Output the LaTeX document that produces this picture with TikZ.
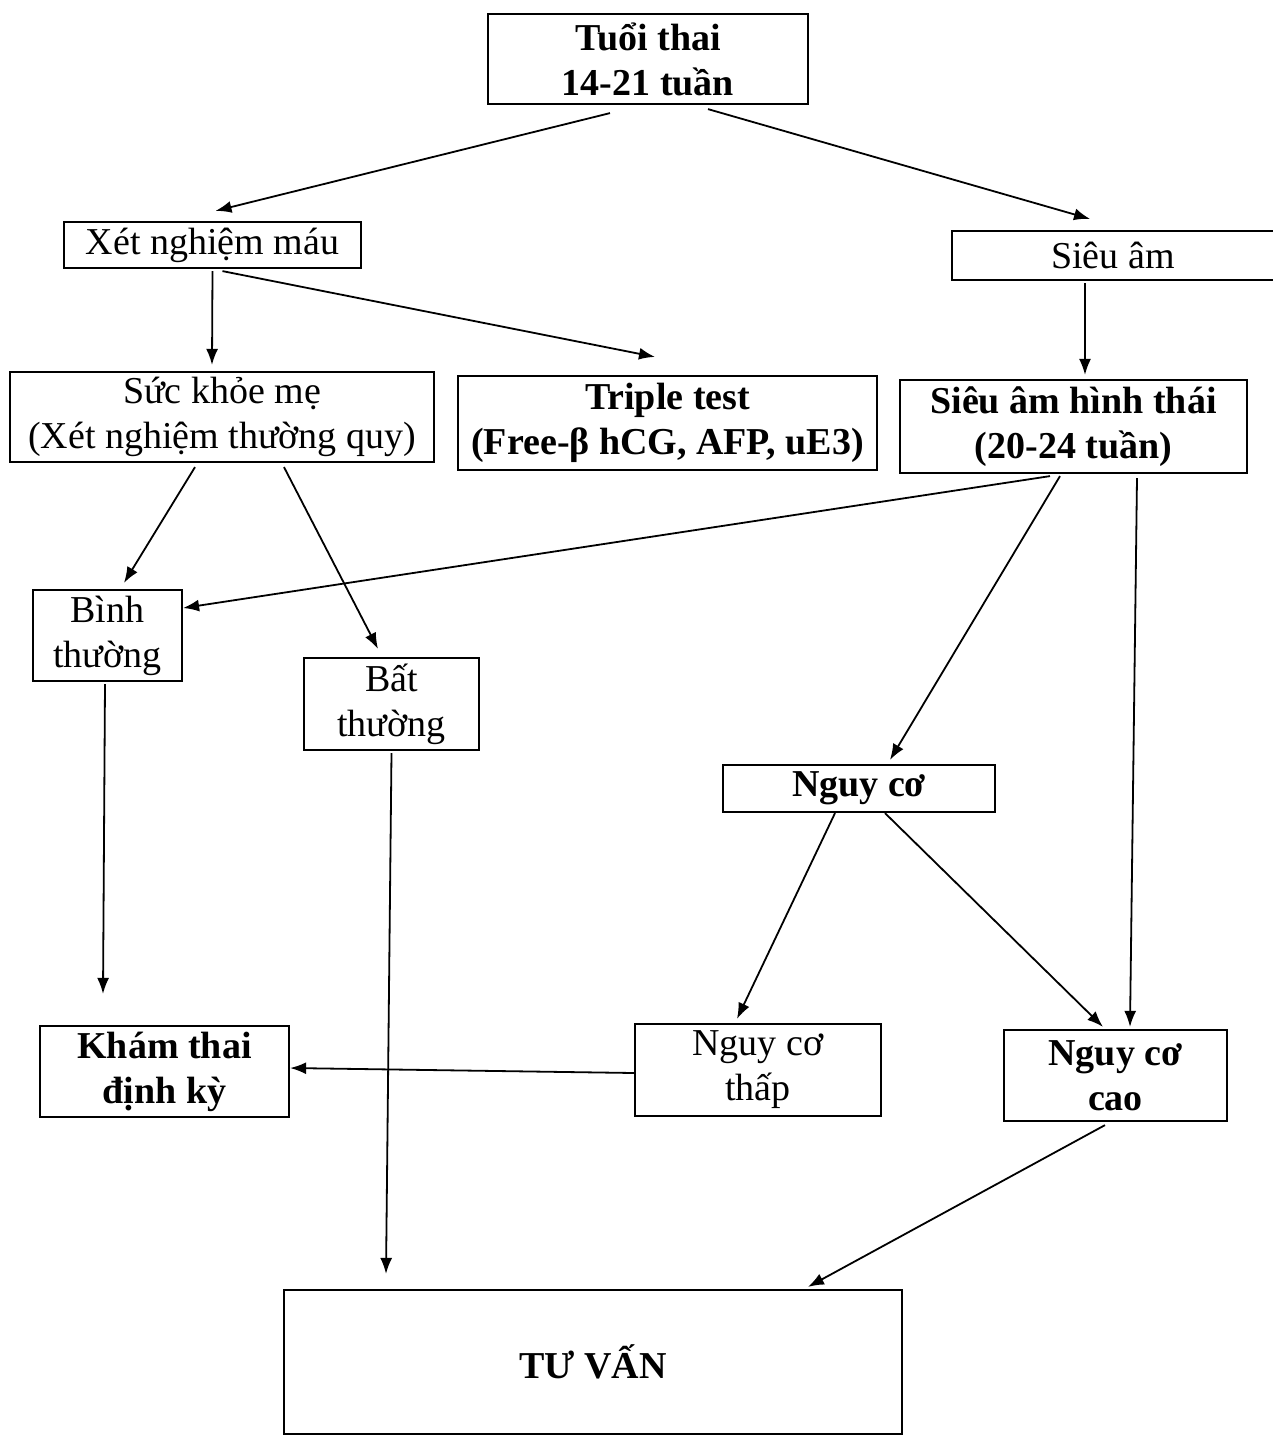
\documentclass[tikz,border=0pt]{standalone}
\usepackage{fontspec}
\setmainfont{Liberation Serif}
\usetikzlibrary{arrows.meta}
\begin{document}
\begin{tikzpicture}[x=0.5pt,y=-0.5pt,
  box/.style={draw, line width=1.1pt, inner sep=0pt, align=center,
    font=\fontsize{19}{22.5}\selectfont},
  bbox/.style={box, font=\fontsize{19}{22.5}\selectfont\bfseries},
  arr/.style={line width=0.9pt, -{Latex[length=8pt,width=6pt]}}]
\useasboundingbox (0,0) rectangle (1273,1437);
\fill[white] (0,0) rectangle (1273,1437);
% nodes
\node[bbox, minimum width=160pt, minimum height=45pt] (t1) at (648,59) {Tuổi thai\\14-21 tuần};
\node[box, minimum width=148.5pt, minimum height=23pt] (xn) at (212.5,245) {Xét nghiệm máu};
\node[box, draw=none, minimum width=160pt, minimum height=23.5pt] (sa) at (1113,255.5) {Siêu âm};
\draw[line width=1.1pt] (sa.north east) -- (sa.north west) -- (sa.south west) -- (sa.south east);
\node[box, minimum width=212pt, minimum height=45pt] (sk) at (222,417) {Sức khỏe mẹ\\(Xét nghiệm thường quy)};
\node[bbox, minimum width=209.5pt, minimum height=47pt] (tt) at (667.5,423) {Triple test\\(Free-β hCG, AFP, uE3)};
\node[bbox, minimum width=173.5pt, minimum height=46.5pt] (sh) at (1073.5,426.5) {Siêu âm hình thái\\(20-24 tuần)};
\node[box, minimum width=74.5pt, minimum height=45.5pt] (bt) at (107.5,635.5) {Bình\\thường};
\node[box, minimum width=87.5pt, minimum height=46pt] (bat) at (391.5,704) {Bất\\thường};
\node[bbox, minimum width=136pt, minimum height=23.5pt] (nc) at (859,788.5) {Nguy cơ};
\node[bbox, minimum width=124.5pt, minimum height=45.5pt] (kt) at (164.5,1071.5) {Khám thai\\định kỳ};
\node[box, minimum width=123pt, minimum height=46pt] (ncth) at (758,1070) {Nguy cơ\\thấp};
\node[bbox, minimum width=111.5pt, minimum height=45.5pt] (ncc) at (1115.5,1075.5) {Nguy cơ\\cao};
\node[bbox, minimum width=309pt, minimum height=72pt] (tv) at (593,1362) {TƯ VẤN};
% connectors
\draw[arr] ([xshift=-19pt,yshift=-4pt]t1.south) -- ([xshift=1.5pt,yshift=5pt]xn.north);
\draw[arr] ([xshift=30pt,yshift=-2pt]t1.south) -- ([xshift=-11.5pt,yshift=6pt]sa.north);
\draw[arr] ([yshift=-1pt]xn.south) -- ([xshift=-5pt,yshift=3pt]sk.north);
\draw[arr] ([xshift=5pt,yshift=-1pt]xn.south) -- ([xshift=-6.25pt,yshift=9pt]tt.north);
\draw[arr] ([xshift=-14pt,yshift=-1.5pt]sa.south) -- ([xshift=5.75pt,yshift=2pt]sh.north);
\draw[arr] ([xshift=-13.5pt,yshift=-2pt]sk.south) -- ([xshift=8.25pt,yshift=3pt]bt.north);
\draw[arr] ([xshift=31pt,yshift=-2pt]sk.south) -- ([xshift=-6.75pt,yshift=4pt]bat.north);
\draw[arr] ([xshift=-11.75pt,yshift=-1pt]sh.south) -- ([yshift=13.75pt]bt.east);
\draw[arr] ([xshift=-6.75pt,yshift=-1pt]sh.south) -- ([xshift=15.5pt,yshift=2pt]nc.north);
\draw[arr] ([xshift=31.75pt,yshift=-2pt]sh.south) -- ([xshift=7.25pt,yshift=1pt]ncc.north);
\draw[arr] ([xshift=-1.25pt,yshift=-1pt]bt.south) -- ([xshift=-30.75pt,yshift=15.5pt]kt.north);
\draw[arr] ([yshift=-1pt]bat.south) -- ([xshift=-103.5pt,yshift=7.5pt]tv.north);
\draw[arr] ([xshift=-12pt]nc.south) -- ([xshift=-10.5pt,yshift=2pt]ncth.north);
\draw[arr] ([xshift=13pt]nc.south) -- ([xshift=-6.25pt,yshift=1pt]ncc.north);
\draw[arr] ([yshift=-1.5pt]ncth.west) -- ([yshift=1.75pt]kt.east);
\draw[arr] ([xshift=-5.25pt,yshift=-1.5pt]ncc.south) -- ([xshift=107.5pt,yshift=1pt]tv.north);
\end{tikzpicture}
\end{document}
